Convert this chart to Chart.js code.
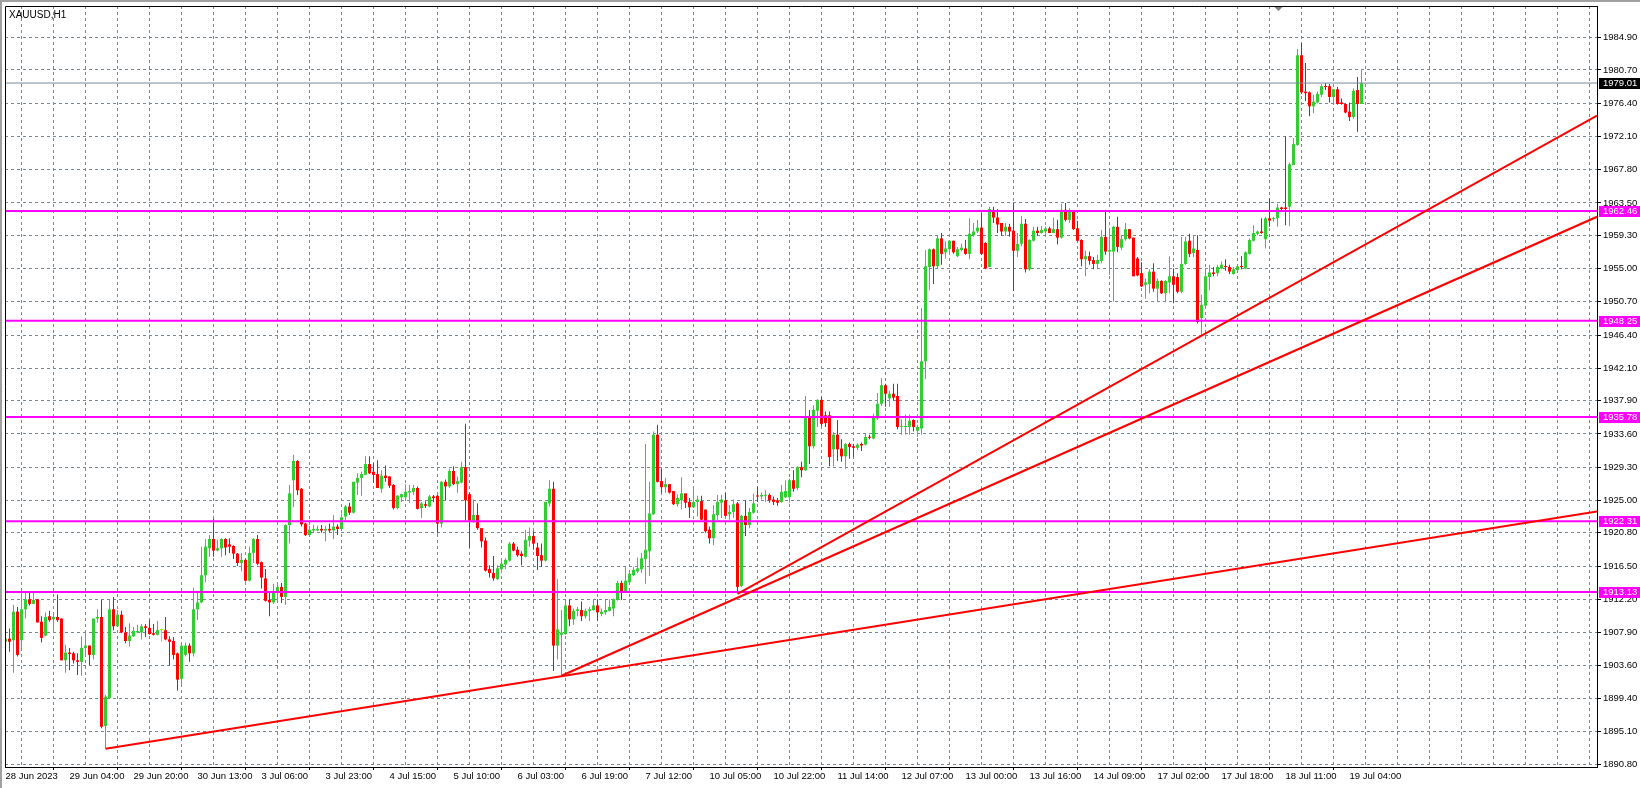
<!DOCTYPE html>
<html>
<head>
<meta charset="utf-8">
<script src="https://cdn.jsdelivr.net/npm/chart.js@4/dist/chart.umd.min.js"></script>
<style>
html,body{margin:0;padding:0;background:#fff;overflow:hidden}
canvas{display:block}
</style>
</head>
<body>
<canvas id="c" width="1640" height="788"></canvas>
<script>
const symbolTitle = 'XAUUSD,H1';

// Hourly candles (bar index 0 = 28 Jun 2023 12:00 ... 339 = 19 Jul 07:00)
const openP = [
1906.7,1907.1,1906.9,1910.6,1906.9,1910.9,1912.2,1911.6,1912.2,1909.3,
1907.5,1910.0,1909.6,1909.9,1909.7,1904.3,1905.3,1905.2,1904.3,1904.1,
1905.9,1906.2,1905.0,1909.7,1909.9,1895.8,1899.4,1910.9,1908.7,1910.2,
1907.9,1906.8,1907.4,1907.9,1907.9,1908.7,1908.5,1907.8,1907.6,1908.2,
1908.2,1907.0,1906.8,1905.2,1901.9,1905.0,1906.2,1905.2,1910.9,1911.8,
1915.3,1918.8,1920.0,1918.5,1918.8,1920.0,1919.3,1919.1,1918.1,1916.9,
1917.3,1914.6,1918.2,1920.0,1917.0,1914.9,1912.1,1911.8,1913.0,1913.8,
1912.5,1921.8,1927.6,1930.1,1926.5,1922.0,1920.5,1921.1,1921.1,1921.3,
1921.1,1921.3,1921.1,1921.6,1921.3,1922.9,1924.2,1923.4,1927.3,1927.9,
1928.3,1929.7,1928.7,1928.4,1926.5,1928.2,1928.1,1927.0,1924.0,1925.4,
1925.4,1926.0,1926.1,1926.6,1924.0,1924.5,1924.2,1925.5,1925.6,1922.0,
1927.4,1926.8,1928.8,1927.1,1927.3,1929.3,1925.8,1922.4,1923.1,1921.4,
1919.8,1916.1,1915.6,1914.8,1916.1,1916.7,1917.2,1919.4,1918.6,1918.1,
1917.7,1919.8,1920.4,1918.9,1917.9,1917.2,1924.6,1926.5,1906.2,1907.6,
1907.7,1911.4,1909.6,1910.7,1910.8,1910.0,1910.7,1910.8,1911.4,1910.3,
1910.5,1910.7,1911.0,1912.1,1914.3,1913.2,1914.4,1915.3,1915.8,1916.1,
1917.4,1918.4,1923.2,1933.5,1927.5,1926.7,1927.1,1926.2,1924.5,1925.0,
1925.9,1924.8,1924.1,1924.8,1924.9,1923.8,1921.2,1920.1,1923.1,1924.7,
1925.0,1923.2,1923.5,1924.6,1913.9,1923.0,1921.8,1923.4,1925.6,1925.5,
1925.6,1925.7,1925.1,1925.0,1924.8,1925.4,1925.4,1927.6,1926.6,1929.3,
1928.9,1935.9,1932.0,1936.6,1938.0,1936.0,1936.0,1931.6,1933.5,1931.7,
1930.7,1932.3,1932.0,1931.8,1932.3,1932.2,1933.2,1933.0,1935.6,1937.5,
1939.9,1938.2,1938.8,1938.5,1934.5,1934.5,1934.5,1935.4,1934.0,1934.3,
1943.0,1955.2,1957.5,1955.3,1958.9,1957.1,1957.5,1958.6,1956.6,1957.4,
1957.6,1956.9,1959.3,1959.8,1960.3,1958.3,1955.2,1962.6,1961.6,1960.9,
1959.8,1960.4,1959.9,1957.3,1958.2,1960.8,1954.9,1958.6,1959.9,1959.6,
1959.8,1960.2,1959.6,1960.1,1959.0,1962.6,1961.3,1962.4,1960.2,1958.7,
1956.2,1956.6,1956.1,1955.6,1956.0,1959.1,1957.2,1957.2,1960.4,1957.7,
1958.8,1960.1,1959.0,1956.3,1954.4,1952.9,1953.0,1954.6,1952.4,1953.4,
1951.8,1953.2,1954.0,1953.9,1952.0,1955.6,1958.6,1957.0,1957.4,1948.6,
1950.2,1953.9,1954.5,1954.4,1955.0,1955.3,1955.2,1954.3,1954.8,1955.3,
1955.0,1956.9,1958.6,1959.5,1959.8,1958.8,1961.5,1961.4,1961.5,1962.9,
1962.9,1963.0,1968.4,1971.0,1982.6,1977.9,1977.8,1976.0,1976.5,1977.5,
1978.6,1978.6,1977.2,1978.2,1976.5,1976.3,1975.3,1974.6,1978.1,1976.3
];
const highP = [
1907.7,1908.4,1911.5,1911.2,1913.2,1913.2,1913.2,1913.2,1912.2,1910.0,
1910.5,1910.7,1910.5,1912.8,1909.7,1906.3,1905.9,1905.4,1905.2,1907.4,
1908.1,1906.2,1909.7,1910.9,1912.1,1899.8,1912.1,1912.5,1910.8,1910.7,
1908.6,1909.1,1908.6,1908.9,1909.0,1909.0,1909.5,1909.0,1909.4,1908.4,
1909.9,1907.4,1907.3,1905.3,1906.5,1906.6,1906.5,1913.7,1913.2,1919.0,
1920.0,1920.5,1922.6,1919.9,1920.1,1920.1,1920.1,1919.2,1918.2,1918.2,
1917.4,1919.0,1920.1,1920.5,1917.1,1916.1,1913.2,1914.2,1914.3,1914.3,
1921.9,1927.0,1930.9,1930.2,1926.6,1922.1,1921.7,1921.8,1921.7,1921.8,
1921.7,1922.0,1923.1,1921.9,1923.3,1924.4,1924.7,1927.4,1928.5,1928.7,
1930.7,1930.7,1929.8,1930.2,1928.9,1929.5,1928.1,1927.1,1925.7,1925.9,
1927.1,1927.0,1927.0,1926.8,1924.8,1924.9,1925.7,1925.7,1925.7,1927.5,
1927.7,1929.1,1929.4,1928.1,1930.0,1934.9,1926.0,1925.1,1924.6,1921.4,
1920.2,1916.6,1917.8,1916.6,1917.3,1917.5,1919.6,1919.6,1919.0,1918.4,
1921.2,1921.5,1921.0,1919.5,1919.4,1924.8,1927.6,1927.4,1914.8,1910.8,
1911.7,1912.2,1911.0,1911.2,1911.9,1911.0,1911.2,1912.1,1912.2,1911.0,
1912.1,1912.2,1912.3,1914.6,1914.6,1916.4,1915.9,1916.4,1917.6,1918.2,
1932.3,1927.4,1933.9,1934.8,1929.1,1927.9,1927.1,1926.2,1925.8,1928.0,
1925.9,1925.3,1926.8,1925.6,1925.6,1923.8,1921.6,1924.4,1925.7,1925.7,
1926.0,1924.4,1925.1,1924.8,1923.1,1925.0,1924.0,1925.9,1926.8,1926.0,
1926.3,1925.9,1925.5,1925.3,1927.0,1927.6,1927.8,1928.9,1929.4,1930.0,
1938.5,1936.7,1937.3,1938.1,1938.4,1936.5,1936.5,1933.8,1935.4,1932.9,
1932.4,1932.5,1932.3,1932.4,1932.5,1933.7,1933.5,1936.2,1938.9,1940.8,
1940.1,1939.2,1940.1,1940.1,1935.5,1936.1,1936.1,1935.5,1934.8,1949.9,
1957.4,1957.6,1957.6,1959.3,1959.6,1958.5,1958.7,1958.6,1957.8,1958.2,
1958.7,1961.5,1960.9,1961.3,1962.2,1958.4,1963.0,1963.0,1962.7,1960.9,
1960.9,1960.8,1963.5,1959.6,1961.8,1961.4,1958.8,1960.4,1960.4,1960.5,
1960.4,1960.4,1961.6,1961.3,1963.4,1963.5,1962.8,1962.4,1961.2,1958.8,
1957.3,1957.2,1956.5,1956.8,1960.0,1962.6,1960.0,1960.5,1961.7,1959.2,
1960.9,1960.1,1959.0,1956.5,1955.8,1953.7,1954.9,1955.7,1953.7,1953.5,
1953.5,1956.6,1955.0,1954.4,1959.1,1959.1,1959.5,1959.3,1959.3,1951.6,
1955.0,1955.5,1955.2,1955.5,1955.9,1956.2,1955.5,1955.2,1955.5,1956.6,
1957.2,1958.9,1960.6,1959.9,1961.5,1961.7,1964.1,1961.7,1963.4,1963.0,
1972.1,1968.7,1971.9,1983.4,1984.2,1981.6,1977.9,1977.5,1977.9,1978.9,
1979.0,1978.9,1978.2,1978.5,1977.0,1976.4,1976.5,1978.3,1979.8,1980.8
];
const lowP = [
1905.6,1905.4,1902.7,1904.8,1905.9,1909.7,1911.4,1911.6,1909.2,1906.6,
1907.4,1909.3,1907.9,1909.3,1904.3,1902.7,1903.0,1903.9,1902.4,1902.3,
1905.0,1903.7,1904.4,1909.2,1895.5,1892.9,1899.3,1908.2,1908.6,1907.8,
1906.5,1906.1,1907.3,1907.8,1907.0,1907.3,1907.6,1907.5,1907.5,1906.7,
1906.9,1903.6,1904.4,1900.4,1901.2,1904.8,1904.1,1904.8,1909.5,1911.7,
1914.4,1917.7,1917.7,1918.4,1917.7,1917.9,1918.2,1917.4,1916.5,1915.8,
1914.5,1914.5,1916.9,1916.6,1913.6,1911.9,1910.0,1911.6,1911.8,1911.7,
1911.5,1919.4,1924.1,1925.7,1921.6,1920.4,1920.4,1920.8,1921.0,1920.8,
1919.7,1920.8,1920.0,1920.5,1921.2,1922.2,1923.1,1923.3,1925.7,1925.6,
1928.3,1928.4,1927.3,1926.6,1926.0,1927.4,1926.6,1923.8,1923.8,1924.8,
1925.3,1924.7,1925.7,1923.8,1922.7,1924.0,1924.1,1924.8,1920.7,1921.5,
1925.0,1926.6,1927.0,1926.0,1927.2,1922.4,1918.9,1922.1,1921.2,1918.9,
1915.8,1915.0,1914.6,1914.7,1915.6,1916.1,1917.1,1918.4,1917.7,1916.6,
1917.6,1919.0,1918.6,1916.0,1916.4,1917.1,1924.2,1902.9,1904.4,1902.3,
1907.6,1908.7,1908.9,1910.0,1909.4,1909.7,1909.4,1910.7,1909.4,1910.0,
1910.2,1910.6,1910.0,1912.0,1912.1,1913.1,1914.3,1915.2,1915.6,1915.6,
1914.2,1915.2,1923.1,1927.3,1926.0,1926.0,1925.9,1924.4,1924.2,1923.8,
1924.0,1922.7,1924.0,1922.9,1922.4,1920.8,1919.4,1919.2,1922.5,1922.7,
1922.9,1922.5,1922.7,1913.0,1913.8,1920.4,1921.4,1923.3,1924.8,1925.1,
1924.8,1924.7,1924.4,1924.3,1924.7,1925.3,1924.7,1926.1,1926.3,1928.0,
1928.8,1929.7,1931.7,1934.5,1934.6,1934.5,1929.4,1929.4,1930.1,1930.0,
1929.1,1930.4,1930.6,1931.5,1931.4,1932.1,1932.9,1932.9,1935.4,1937.2,
1937.1,1937.1,1937.9,1934.2,1933.5,1933.5,1933.5,1933.9,1933.2,1933.5,
1940.7,1952.2,1953.0,1955.0,1955.5,1956.3,1956.8,1956.9,1956.5,1957.2,
1956.8,1956.2,1959.1,1959.6,1956.8,1954.9,1955.2,1960.9,1959.6,1959.2,
1959.2,1959.1,1952.1,1956.5,1957.9,1954.5,1954.7,1958.5,1959.2,1959.5,
1959.5,1959.6,1959.6,1958.1,1958.9,1961.1,1960.9,1960.0,1958.5,1955.3,
1954.0,1955.5,1954.9,1954.9,1955.7,1956.8,1954.2,1950.7,1957.1,1957.4,
1958.6,1958.8,1954.0,1954.0,1952.6,1951.1,1951.8,1952.0,1950.7,1951.7,
1950.7,1951.8,1950.5,1951.8,1951.8,1955.5,1956.5,1956.5,1947.9,1946.3,
1950.1,1952.2,1954.0,1954.0,1954.9,1954.7,1954.3,1954.2,1954.6,1954.9,
1954.9,1956.8,1958.5,1959.3,1959.5,1957.6,1960.4,1961.1,1960.4,1962.4,
1960.6,1960.5,1968.4,1970.9,1977.6,1976.7,1974.7,1975.1,1976.4,1977.2,
1978.1,1976.5,1976.3,1976.2,1976.2,1975.1,1974.1,1974.4,1972.7,1976.3
];
const closeP = [
1907.1,1906.7,1910.6,1905.0,1910.9,1912.2,1911.6,1912.1,1909.2,1907.2,
1909.9,1909.5,1909.9,1909.5,1904.3,1905.3,1905.1,1904.3,1904.1,1905.9,
1906.2,1905.0,1909.7,1909.9,1895.7,1899.6,1910.9,1908.7,1910.2,1907.9,
1906.8,1907.5,1908.1,1908.1,1908.7,1908.5,1907.7,1907.6,1908.2,1908.2,
1907.0,1906.7,1905.0,1901.8,1906.2,1906.2,1905.2,1910.9,1911.8,1915.3,
1919.0,1920.0,1918.5,1918.8,1920.0,1918.9,1919.0,1918.1,1916.9,1917.3,
1914.6,1918.2,1920.0,1916.8,1915.0,1912.0,1911.8,1913.0,1913.8,1912.5,
1921.8,1925.9,1930.1,1926.3,1921.9,1920.5,1921.2,1921.3,1921.3,1921.1,
1921.3,1921.1,1921.6,1921.3,1922.8,1924.2,1923.4,1927.4,1927.9,1928.4,
1929.7,1928.5,1928.3,1926.6,1928.2,1927.9,1926.9,1924.0,1925.6,1925.8,
1926.1,1926.2,1926.6,1923.9,1924.6,1924.3,1925.5,1925.3,1922.0,1927.4,
1926.8,1928.8,1927.1,1927.5,1929.3,1925.0,1922.4,1923.1,1921.4,1919.7,
1915.9,1915.6,1914.9,1916.2,1916.8,1917.3,1919.4,1918.5,1917.9,1917.8,
1919.9,1920.4,1919.4,1917.8,1917.2,1924.8,1926.5,1906.2,1908.3,1907.9,
1911.4,1909.6,1910.7,1910.9,1910.0,1910.7,1910.9,1911.4,1910.5,1910.6,
1910.8,1911.2,1912.2,1914.3,1913.1,1914.6,1915.5,1916.0,1916.2,1917.5,
1918.6,1923.3,1933.5,1927.4,1926.7,1927.1,1926.0,1924.5,1925.3,1925.9,
1924.7,1924.1,1924.8,1925.1,1922.5,1921.0,1920.1,1923.2,1924.8,1925.1,
1923.0,1923.5,1924.5,1913.8,1923.0,1921.8,1923.5,1924.6,1925.5,1925.7,
1925.7,1925.0,1924.8,1924.7,1926.1,1926.2,1927.6,1926.5,1929.3,1928.9,
1935.9,1932.0,1936.7,1938.0,1934.9,1935.0,1930.6,1933.5,1931.6,1930.7,
1932.3,1931.9,1931.8,1932.2,1932.1,1933.2,1933.1,1935.7,1937.5,1939.9,
1938.8,1938.8,1938.3,1934.5,1934.6,1934.6,1935.3,1934.5,1934.5,1943.0,
1955.3,1957.5,1955.3,1958.9,1956.9,1957.6,1958.6,1957.1,1957.5,1957.7,
1956.9,1959.5,1959.8,1960.3,1956.9,1955.0,1962.7,1961.6,1960.7,1959.8,
1960.4,1959.8,1957.3,1958.2,1960.8,1954.9,1958.7,1959.9,1959.6,1960.0,
1960.2,1959.6,1960.1,1959.0,1962.6,1961.3,1962.4,1960.1,1958.6,1956.2,
1956.6,1956.0,1955.6,1956.1,1959.1,1957.2,1957.4,1960.4,1957.8,1958.8,
1960.1,1958.9,1954.0,1954.1,1952.7,1953.2,1954.6,1952.4,1953.4,1951.8,
1953.4,1954.0,1952.9,1952.0,1955.6,1958.5,1956.9,1957.6,1948.1,1950.3,
1954.0,1954.5,1954.3,1955.2,1955.5,1955.2,1954.6,1954.9,1955.3,1955.2,
1957.1,1958.7,1959.6,1959.8,1959.6,1961.5,1961.2,1961.5,1962.9,1962.7,
1962.7,1968.5,1971.1,1982.6,1977.8,1977.7,1976.0,1976.6,1977.6,1978.6,
1978.5,1977.2,1978.2,1976.3,1976.3,1975.2,1974.6,1978.0,1976.3,1979.0
];

// Time-axis labels, one every 16 bars starting at bar 0
const timeLabels = ['28 Jun 2023','29 Jun 04:00','29 Jun 20:00','30 Jun 13:00','3 Jul 06:00','3 Jul 23:00',
  '4 Jul 15:00','5 Jul 10:00','6 Jul 03:00','6 Jul 19:00','7 Jul 12:00','10 Jul 05:00','10 Jul 22:00',
  '11 Jul 14:00','12 Jul 07:00','13 Jul 00:00','13 Jul 16:00','14 Jul 09:00','17 Jul 02:00','17 Jul 18:00',
  '18 Jul 11:00','19 Jul 04:00'];
const LABEL_STEP = 16;
const GRID_STEP = 8;

// Price-axis tick labels
const priceTicks = [1890.80,1895.10,1899.40,1903.60,1907.90,1912.20,1916.50,1920.80,1925.00,1929.30,
  1933.60,1937.90,1942.10,1946.40,1950.70,1955.00,1959.30,1963.50,1967.80,1972.10,1976.40,1980.70,1984.90];

// Horizontal levels, bid line and trend lines
const levelPrices = [1962.46, 1948.25, 1935.78, 1922.31, 1913.13];
const bidPrice = 1979.01;
const trendStartBar = [25, 139, 183];
const trendStartPrice = [1892.85, 1902.3, 1912.9];
const trendEdgePrice = [1923.55, 1961.7, 1974.8];

// view window
const X_MIN = -0.125, X_MAX = 397.875;
const Y_MIN = 1890.49, Y_MAX = 1988.98;

const UP = '#32CD32', DOWN = '#FF0000', DOJI = '#7CFC00';
const GRID = '#778899';
const FONT_FAMILY = '"Liberation Sans", Arial, sans-serif';
const AXIS_FONT_SIZE = 9.5;

const n = openP.length;
const colors = [];
const bodies = [];
const wicks = [];
for (let i = 0; i < n; i++) {
  const d = closeP[i] - openP[i];
  colors.push(Math.abs(d) < 0.05 ? DOJI : (d > 0 ? UP : DOWN));
  bodies.push({x: i, y: [openP[i], closeP[i]]});
  wicks.push({x: i, y: [lowP[i], highP[i]]});
}

const datasets = [];
datasets.push({
  type: 'bar', label: 'wick', data: wicks, backgroundColor: colors, borderWidth: 0,
  grouped: false, categoryPercentage: 1, barPercentage: 0.25, order: 5
});
datasets.push({
  type: 'bar', label: 'body', data: bodies, backgroundColor: colors, borderWidth: 0,
  grouped: false, categoryPercentage: 1, barPercentage: 0.75, minBarLength: 1, order: 4
});
datasets.push({
  type: 'line', label: 'bid', data: [{x: X_MIN, y: bidPrice}, {x: X_MAX, y: bidPrice}],
  borderColor: GRID, borderWidth: 1, pointRadius: 0, order: 3
});
levelPrices.forEach(p => datasets.push({
  type: 'line', label: 'level', data: [{x: X_MIN, y: p}, {x: X_MAX, y: p}],
  borderColor: '#FF00FF', borderWidth: 2, pointRadius: 0, order: 2
}));
trendStartBar.forEach((b, i) => datasets.push({
  type: 'line', label: 'trend', data: [{x: b, y: trendStartPrice[i]}, {x: X_MAX, y: trendEdgePrice[i]}],
  borderColor: '#FF0000', borderWidth: 2, pointRadius: 0, order: 1
}));

const isLabelTick = v => v % LABEL_STEP === 0 && v / LABEL_STEP < timeLabels.length;

const mtPlugin = {
  id: 'mt',
  afterDraw(chart) {
    const {ctx, chartArea: a} = chart;
    const y = chart.scales.y;
    const x = chart.scales.x;
    ctx.save();
    // window frame
    ctx.fillStyle = '#a0a0a0';
    ctx.fillRect(0, 0, chart.width, 2);
    ctx.fillRect(0, 0, 2, chart.height);
    // chart frame (left, top)
    ctx.strokeStyle = '#000';
    ctx.lineWidth = 1;
    ctx.beginPath();
    ctx.moveTo(Math.round(a.left) + 0.5, Math.round(a.bottom));
    ctx.lineTo(Math.round(a.left) + 0.5, Math.round(a.top) + 0.5);
    ctx.lineTo(Math.round(a.right), Math.round(a.top) + 0.5);
    ctx.stroke();
    // title
    ctx.fillStyle = '#000';
    ctx.font = '10px ' + FONT_FAMILY;
    ctx.textBaseline = 'middle';
    ctx.textAlign = 'left';
    ctx.fillText(symbolTitle, 9, 15);
    // price tags
    const tag = (price, bg) => {
      const py = Math.round(y.getPixelForValue(price));
      ctx.fillStyle = bg;
      ctx.fillRect(Math.round(a.right) + 2, py - 5, chart.width - Math.round(a.right) - 2, 11);
      ctx.fillStyle = '#fff';
      ctx.font = AXIS_FONT_SIZE + 'px ' + FONT_FAMILY;
      ctx.fillText(price.toFixed(2), Math.round(a.right) + 6, py + 0.5);
    };
    levelPrices.forEach(p => tag(p, '#FF00FF'));
    tag(bidPrice, '#000');
    // chart shift marker
    const sx = Math.round(x.getPixelForValue(318)) + 0.5;
    ctx.fillStyle = '#808080';
    ctx.beginPath();
    ctx.moveTo(sx - 4, Math.round(a.top) + 1);
    ctx.lineTo(sx + 4, Math.round(a.top) + 1);
    ctx.lineTo(sx, Math.round(a.top) + 5);
    ctx.closePath();
    ctx.fill();
    ctx.restore();
  }
};

Chart.defaults.font.family = FONT_FAMILY;

new Chart(document.getElementById('c'), {
  type: 'bar',
  data: {datasets},
  options: {
    responsive: false,
    animation: false,
    devicePixelRatio: 1,
    events: [],
    layout: {padding: {left: 5, top: 6, right: 0, bottom: 0}},
    plugins: {legend: {display: false}, tooltip: {enabled: false}},
    scales: {
      x: {
        type: 'linear', position: 'bottom', min: X_MIN, max: X_MAX, offset: false,
        afterBuildTicks: s => {
          const t = [];
          for (let v = 0; v <= X_MAX; v += GRID_STEP) t.push({value: v});
          s.ticks = t;
        },
        afterFit: s => { s.height = 21; s.paddingLeft = 0; s.paddingRight = 0; },
        grid: {
          color: GRID, lineWidth: 1, drawTicks: true, tickLength: 3,
          tickColor: c => (c.tick && isLabelTick(c.tick.value)) ? '#000' : 'rgba(0,0,0,0)'
        },
        border: {display: true, color: '#000', width: 1, dash: [3, 3]},
        ticks: {
          autoSkip: false, maxRotation: 0, minRotation: 0, align: 'start', padding: 1,
          color: '#000', font: {size: AXIS_FONT_SIZE},
          callback: v => isLabelTick(v) ? timeLabels[v / LABEL_STEP] : ''
        }
      },
      y: {
        type: 'linear', position: 'right', min: Y_MIN, max: Y_MAX,
        afterBuildTicks: s => { s.ticks = priceTicks.map(v => ({value: v})); },
        afterFit: s => { s.width = 43; s.paddingTop = 0; s.paddingBottom = 0; },
        grid: {color: GRID, lineWidth: 1, drawTicks: true, tickLength: 4, tickColor: '#000'},
        border: {display: true, color: '#000', width: 1, dash: [3, 3]},
        ticks: {
          autoSkip: false, padding: 2, color: '#000', font: {size: AXIS_FONT_SIZE},
          callback: v => Number(v).toFixed(2)
        }
      }
    }
  },
  plugins: [mtPlugin]
});
</script>
</body>
</html>
